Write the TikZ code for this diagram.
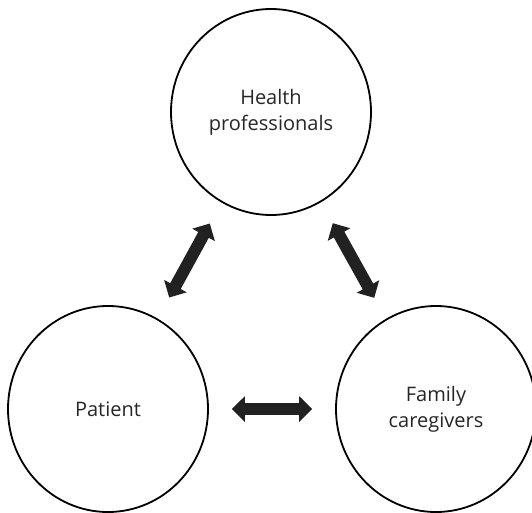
\documentclass[tikz,border=0pt]{standalone}
\usepackage{fontspec}
\setmainfont{Open Sans}
\usetikzlibrary{arrows.meta,shapes.geometric}

\begin{document}
\begin{tikzpicture}[x=1pt, y=-1pt,
    party/.style={ellipse, draw=black, line width=1.8pt, inner sep=0pt,
        minimum width=200pt, minimum height=206pt, align=center,
        text=black!85, font=\fontsize{20}{26}\selectfont},
    link/.style={draw=black!87, line width=12pt,
        {Triangle[width=25pt,length=13pt]}-{Triangle[width=25pt,length=13pt]},
        shorten <=24pt, shorten >=24pt}]
    \useasboundingbox (0,0) rectangle (532,512);

    \node [party] (health) at (271,112) {Health\\professionals};   % top circle
    \node [party] (patient) at (108,409) {Patient};                % left circle
    \node [party] (family) at (436,409) {Family\\caregivers};      % right circle

    \draw [link] (health) -- (patient);    % two-way links
    \draw [link] (health) -- (family);
    \draw [link, shorten <=23pt, shorten >=23pt] (patient) -- (family);
\end{tikzpicture}
\end{document}
